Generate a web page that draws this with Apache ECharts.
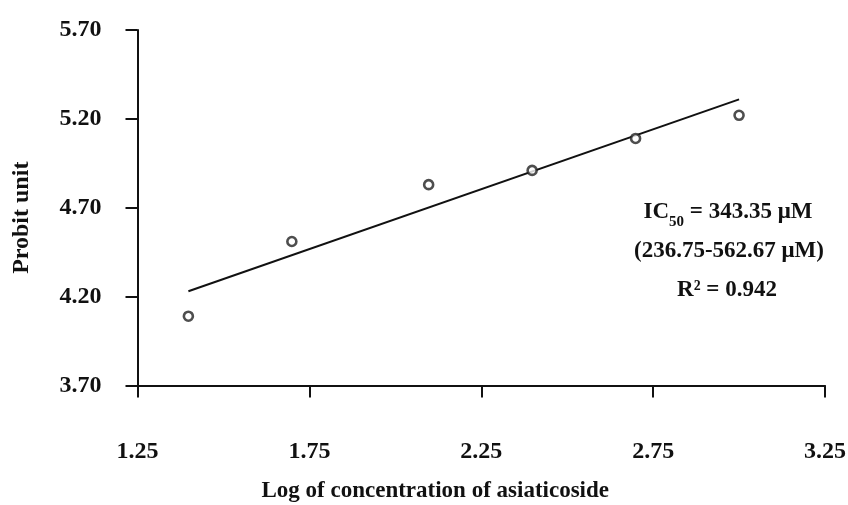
<!DOCTYPE html>
<html>
<head>
<meta charset="utf-8">
<script src="https://cdn.jsdelivr.net/npm/echarts@6/dist/echarts.min.js"></script>
<style>
  html, body { margin: 0; padding: 0; background: #ffffff; }
  #chart { width: 848px; height: 505px; }
</style>
</head>
<body>
<div id="chart"></div>
<script>
// Log concentration of asiaticoside vs probit response
const logConc = [1.398, 1.699, 2.097, 2.398, 2.699, 3.000];
const probitUnit = [4.09, 4.51, 4.83, 4.91, 5.09, 5.22];

// Endpoints of the fitted regression line
const fitLogConc = [1.398, 3.000];
const fitProbit = [4.23, 5.31];

// Axis ranges (ticks every 0.50)
const xTicks = [1.25, 1.75, 2.25, 2.75, 3.25];
const yTicks = [3.70, 4.20, 4.70, 5.20, 5.70];

// Annotation lines
const ic50Text = 'IC{sub|50}{b| = 343.35 μM}';
const ciText = '(236.75-562.67 μM)';
const r2Text = 'R² = 0.942';

const FONT = '"Liberation Serif", "Times New Roman", serif';
const INK = '#111111';

const chart = echarts.init(document.getElementById('chart'), null, { renderer: 'canvas' });

const points = logConc.map((x, i) => [x, probitUnit[i]]);
const fitLine = fitLogConc.map((x, i) => [x, fitProbit[i]]);

const axisCommon = {
  type: 'value',
  interval: 0.5,
  splitLine: { show: false },
  axisLine: { show: true, onZero: false, lineStyle: { color: INK, width: 2 } },
  axisTick: { show: true, inside: false, length: 12, lineStyle: { color: INK, width: 2 } },
  nameLocation: 'middle',
  nameTextStyle: { fontFamily: FONT, fontWeight: 'bold', fontSize: 23, color: INK }
};

chart.setOption({
  backgroundColor: '#ffffff',
  animation: false,
  grid: {
    left: 137.5, right: 23, top: 30, bottom: 119.5,
    containLabel: false,
    outerBoundsMode: 'none'
  },
  xAxis: Object.assign({}, axisCommon, {
    min: xTicks[0],
    max: xTicks[xTicks.length - 1],
    name: 'Log of concentration of asiaticoside',
    nameGap: 94,
    nameTextStyle: Object.assign({}, axisCommon.nameTextStyle, { padding: [0, 92, 0, 0] }),
    axisLabel: {
      margin: 54,
      fontFamily: FONT, fontWeight: 'bold', fontSize: 24, color: INK,
      formatter: v => v.toFixed(2)
    }
  }),
  yAxis: Object.assign({}, axisCommon, {
    min: yTicks[0],
    max: yTicks[yTicks.length - 1],
    name: 'Probit unit',
    nameGap: 104,
    nameTextStyle: Object.assign({}, axisCommon.nameTextStyle, { fontSize: 24, padding: [0, 20, 0, 0] }),
    axisLabel: {
      margin: 36,
      fontFamily: FONT, fontWeight: 'bold', fontSize: 24, color: INK,
      formatter: v => v.toFixed(2)
    }
  }),
  series: [
    {
      type: 'line',
      data: fitLine,
      symbol: 'none',
      lineStyle: { color: INK, width: 2 },
      z: 2
    },
    {
      type: 'scatter',
      data: points,
      symbol: 'circle',
      symbolSize: 9,
      itemStyle: { color: '#ffffff', borderColor: '#222222', borderWidth: 2.6 },
      z: 3
    }
  ],
  graphic: [
    {
      type: 'text', x: 728, y: 212,
      style: {
        text: ic50Text,
        align: 'center', verticalAlign: 'middle',
        font: 'bold 23px ' + FONT, fill: INK,
        rich: {
          b: { fontFamily: FONT, fontWeight: 'bold', fontSize: 23, color: INK },
          sub: { fontFamily: FONT, fontWeight: 'bold', fontSize: 15, color: INK, verticalAlign: 'bottom', lineHeight: 36 }
        }
      }
    },
    {
      type: 'text', x: 729, y: 251,
      style: { text: ciText, align: 'center', verticalAlign: 'middle', font: 'bold 23px ' + FONT, fill: INK }
    },
    {
      type: 'text', x: 727, y: 290,
      style: { text: r2Text, align: 'center', verticalAlign: 'middle', font: 'bold 23px ' + FONT, fill: INK }
    }
  ]
});
</script>
</body>
</html>
